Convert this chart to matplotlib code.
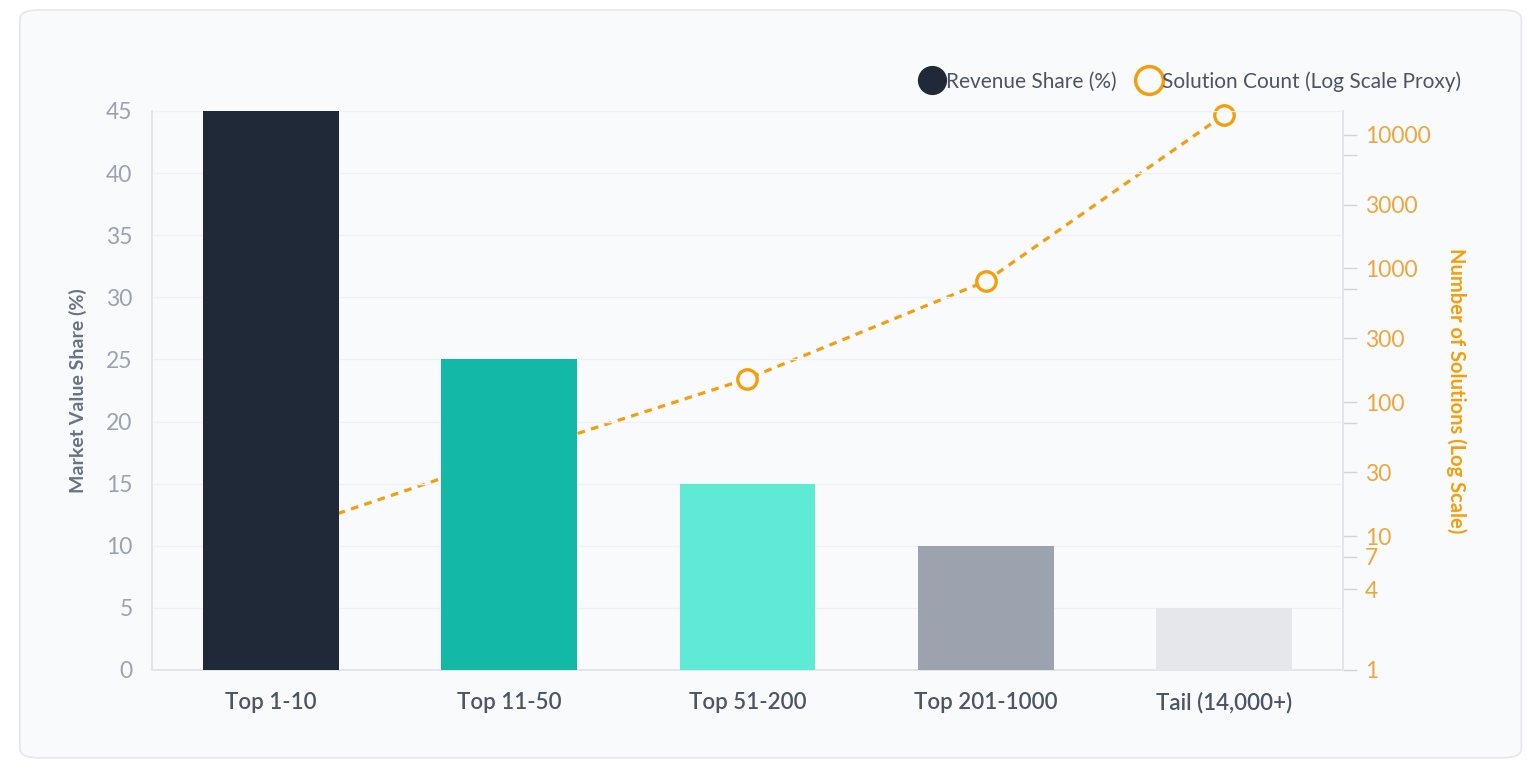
import matplotlib
matplotlib.use('Agg')
import matplotlib.pyplot as plt
from matplotlib.lines import Line2D
from matplotlib.patches import FancyBboxPatch
from matplotlib.ticker import FixedLocator, NullFormatter

plt.rcParams['font.family'] = ['Lato', 'DejaVu Sans']

# ---------------------------------------------------------------------------
# Data
# ---------------------------------------------------------------------------
categories = ['Top 1-10', 'Top 11-50', 'Top 51-200', 'Top 201-1000', 'Tail (14,000+)']
revenue_share = [45, 25, 15, 10, 5]
solution_count = [10, 40, 150, 800, 14000]
bar_colors = ['#1f2937', '#14b8a6', '#5eead4', '#9ca3af', '#e5e7eb']

left_ticks = [0, 5, 10, 15, 20, 25, 30, 35, 40, 45]
right_ticks = [1, 4, 7, 10, 30, 100, 300, 1000, 3000, 10000]
right_minor = [70, 700, 7000]

ORANGE = '#f59e0b'
BG = '#f8fafc'

fig = plt.figure(figsize=(15.29, 7.67), dpi=100, facecolor='white')

# card background
card = FancyBboxPatch((0.013, 0.012), 0.982, 0.975,
                      boxstyle='round,pad=0,rounding_size=0.012',
                      transform=fig.transFigure, facecolor=BG,
                      edgecolor='#e5e7eb', linewidth=1.2, zorder=-5)
fig.patches.append(card)

ax = fig.add_axes([0.0994, 0.1265, 0.7789, 0.7288])
ax2 = ax.twinx()

# line on the log axis, kept behind the bars
x = list(range(len(categories)))
ax2.plot(x, solution_count, color=ORANGE, linestyle=(0, (2.4, 2.0)), linewidth=2.3,
         marker='o', markersize=14, markerfacecolor=BG, markeredgecolor=ORANGE,
         markeredgewidth=2.4, clip_on=False)
ax2.set_yscale('log')
ax2.set_ylim(1, 15000)
ax2.yaxis.set_major_locator(FixedLocator(right_ticks))
ax2.yaxis.set_minor_locator(FixedLocator(right_minor))
ax2.yaxis.set_minor_formatter(NullFormatter())
ax2.set_yticklabels([str(t) for t in right_ticks])
ax2.tick_params(axis='y', which='both', colors='#d1d5db', labelcolor='#eda73c',
                labelsize=16.5, length=10, width=1, pad=6)
ax2.set_ylabel('Number of Solutions (Log Scale)', color=ORANGE, fontsize=14.5,
               fontweight='bold', rotation=270, labelpad=26)

# bars on top
ax.set_zorder(ax2.get_zorder() + 1)
ax.patch.set_visible(False)
ax.bar(x, revenue_share, width=0.57, color=bar_colors, zorder=3)
ax.set_xlim(-0.5, 4.5)
ax.set_ylim(0, 45)
ax.set_yticks(left_ticks)
ax.set_xticks(x)
ax.set_xticklabels(categories, fontsize=16, color='#4b5563', fontweight='semibold')
ax.tick_params(axis='y', length=0, labelsize=16.5, labelcolor='#9ca3af', pad=14)
ax.tick_params(axis='x', length=0, pad=16)
ax.set_ylabel('Market Value Share (%)', color='#6b7280', fontsize=14,
              fontweight='bold', labelpad=14)
ax.grid(True, axis='y', color='#eef1f5', linewidth=1, zorder=0)
ax.set_axisbelow(True)

for a in (ax, ax2):
    a.spines['top'].set_visible(False)
    for side in ('left', 'right', 'bottom'):
        a.spines[side].set_color('#e2e6eb')
        a.spines[side].set_linewidth(1.2)

handles = [
    Line2D([], [], linestyle='', marker='o', markersize=20,
           markerfacecolor='#1f2937', markeredgecolor='#1f2937'),
    Line2D([], [], linestyle='', marker='o', markersize=20,
           markerfacecolor=BG, markeredgecolor=ORANGE, markeredgewidth=2.5),
]
leg = fig.legend(handles, ['Revenue Share (%)', 'Solution Count (Log Scale Proxy)'],
                 loc='center right', bbox_to_anchor=(0.968, 0.894), ncol=2,
                 frameon=False, fontsize=15, handletextpad=0.0,
                 columnspacing=0.9, handlelength=1.3)
for t in leg.get_texts():
    t.set_color('#4b5563')

fig.savefig('out.png', dpi=100, facecolor='white')
